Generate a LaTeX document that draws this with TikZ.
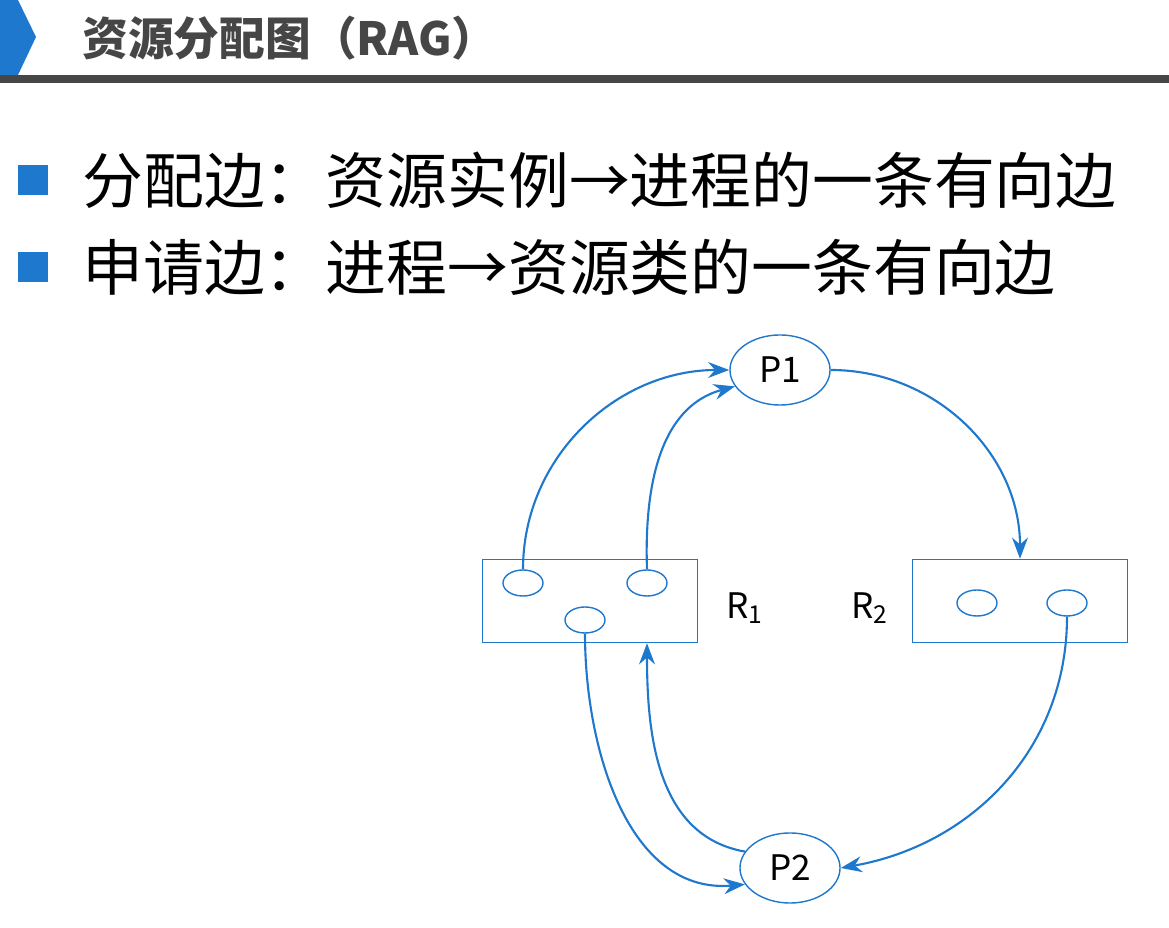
\documentclass[tikz,border=0pt]{standalone}
\usepackage{fontspec}
\setmainfont{Noto Sans CJK SC}
\usetikzlibrary{shapes.geometric,arrows.meta}
\definecolor{ragblue}{RGB}{30,120,205}
\definecolor{headgray}{RGB}{70,70,70}
\tikzset{
  proc/.style={draw=ragblue, ellipse, minimum width=1cm, minimum height=0.7cm, font=\fontsize{10}{12}\selectfont, inner sep=0pt},
  inst/.style={draw=ragblue, ellipse, minimum width=0.4cm, minimum height=0.26cm, inner sep=0pt},
  res/.style={draw=ragblue, rectangle, minimum width=2.15cm, minimum height=0.83cm, inner sep=0pt},
  edge/.style={draw=ragblue, semithick, -{Stealth[length=6pt]}},
  bullet/.style={fill=ragblue, minimum size=0.3cm, inner sep=0pt},
}
\begin{document}
\begin{tikzpicture}[x=0.01cm, y=-0.01cm]
  \useasboundingbox (0,0) rectangle (1169,928);

  % header
  \fill[ragblue] (0,0) -- (18,0) -- (36,37) -- (18,75) -- (0,75) -- cycle;
  \node[anchor=west, text=headgray, font=\fontsize{13}{15}\selectfont\bfseries] (title) at (70,38) {资源分配图（RAG）};
  \draw[headgray, line width=2pt] (0,79) -- (1169,79);

  % bullets
  \node[bullet] (b1) at (33,180) {};
  \node[anchor=west, font=\fontsize{17.3}{20}\selectfont] (t1) at (70,180) {分配边：资源实例→进程的一条有向边};
  \node[bullet] (b2) at (33,267) {};
  \node[anchor=west, font=\fontsize{17.3}{20}\selectfont] (t2) at (70,267) {申请边：进程→资源类的一条有向边};

  % graph
  \node[proc] (P1) at (780,370) {P1};
  \node[proc] (P2) at (790,868) {P2};
  \node[res] (R1) at (590,601) {};
  \node[res] (R2) at (1020,601) {};
  \node[inst] (r11) at (523,583) {};
  \node[inst] (r12) at (647,583) {};
  \node[inst] (r13) at (585,620) {};
  \node[inst] (r21) at (977,603) {};
  \node[inst] (r22) at (1067,603) {};
  \node[font=\fontsize{10}{12}\selectfont] (l1) at (745,608) {R\textsubscript{1}};
  \node[font=\fontsize{10}{12}\selectfont] (l2) at (870,608) {R\textsubscript{2}};

  \draw[edge] (r11.north) to[out=90, in=180] (P1.west);
  \draw[edge] (r12.north) to[out=92, in=195] (P1.200);
  \draw[edge] (P1.east) to[out=0, in=90] (R2.north);
  \draw[edge] (r22.south) to[out=-90, in=10] (P2.east);
  \draw[edge] (r13.south) to[out=-90, in=185] (P2.200);
  \draw[edge] (P2.160) to[out=170, in=-90] (R1.south -| r12);
\end{tikzpicture}
\end{document}
